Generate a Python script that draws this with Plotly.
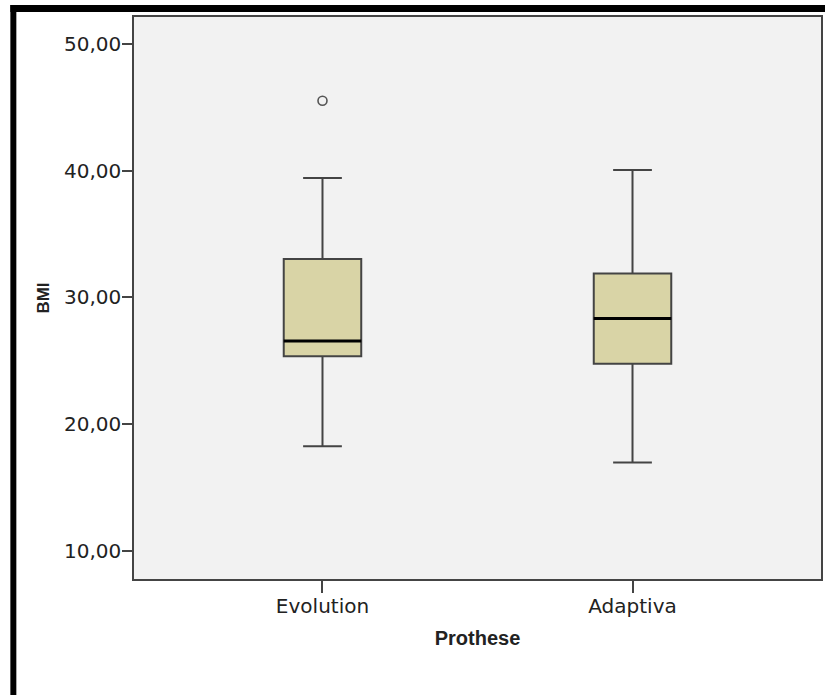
import plotly.graph_objects as go

# ---- data ----
categories = ["Evolution", "Adaptiva"]
q1 = [25.37, 24.77]
median = [26.56, 28.35]
q3 = [33.03, 31.90]
lower_whisker = [18.27, 16.98]
upper_whisker = [39.42, 40.06]
outlier_categories = ["Evolution"]
outlier_values = [45.52]
y_ticks = [10, 20, 30, 40, 50]

# ---- layout geometry (pixels) ----
W, H = 825, 695
L, R, T, B = 134, 2, 17, 116
PW, PH = W - L - R, H - T - B


def px_x(p):
    return (p - L) / PW


def px_y(p):
    return (H - B - p) / PH


BOX_LINE = "#444444"
TICK_FONT = dict(family="DejaVu Sans", size=20, color="#222222")

fig = go.Figure()

fig.add_trace(go.Box(
    x=categories, q1=q1, median=median, q3=q3,
    lowerfence=lower_whisker, upperfence=upper_whisker,
    fillcolor="#d9d4a6", line=dict(color=BOX_LINE, width=2),
    width=0.25, whiskerwidth=0.5, boxpoints=False,
    showlegend=False, hoverinfo="skip",
))
# thick black median line drawn by a flat box at the median
fig.add_trace(go.Box(
    x=categories, q1=median, median=median, q3=median,
    lowerfence=median, upperfence=median,
    fillcolor="rgba(0,0,0,0)", line=dict(color="#000000", width=3),
    width=0.25, whiskerwidth=0, boxpoints=False,
    showlegend=False, hoverinfo="skip",
))
fig.add_trace(go.Scatter(
    x=outlier_categories, y=outlier_values, mode="markers",
    marker=dict(symbol="circle-open", size=9, color="#555555",
                line=dict(width=1.6, color="#555555")),
    showlegend=False, hoverinfo="skip",
))

fig.update_layout(
    width=W, height=H,
    margin=dict(l=L, r=R, t=T, b=B, pad=0),
    paper_bgcolor="white", plot_bgcolor="#f2f2f2",
    separators=",.",
    boxmode="overlay",
    xaxis=dict(
        type="category", categoryorder="array", categoryarray=categories,
        range=[-0.608, 1.608],
        showline=True, linecolor=BOX_LINE, linewidth=1.5, mirror=True,
        ticks="outside", ticklen=12, tickwidth=1.5, tickcolor=BOX_LINE,
        tickfont=TICK_FONT, showgrid=False, zeroline=False,
        ticklabelstandoff=-4,
        title=dict(text="Prothese", standoff=14,
                   font=dict(family="Liberation Sans", size=20, weight="bold", color="#222222")),
    ),
    yaxis=dict(
        range=[7.79, 52.13], tickmode="array", tickvals=y_ticks, tickformat=".2f",
        showline=True, linecolor=BOX_LINE, linewidth=1.5, mirror=True,
        ticks="outside", ticklen=10, tickwidth=1.5, tickcolor=BOX_LINE,
        tickfont=TICK_FONT, showgrid=False, zeroline=False,
        ticklabelstandoff=-3,
        title=dict(text="BMI", standoff=10,
                   font=dict(family="Liberation Sans", size=17, weight="bold", color="#222222")),
    ),
    shapes=[
        dict(type="rect", xref="paper", yref="paper",
             x0=px_x(10), x1=px_x(W + 5), y0=px_y(12), y1=px_y(5),
             fillcolor="black", line=dict(width=0), layer="above"),
        dict(type="rect", xref="paper", yref="paper",
             x0=px_x(10), x1=px_x(16), y0=px_y(H + 5), y1=px_y(5),
             fillcolor="black", line=dict(width=0), layer="above"),
    ],
)

fig.write_html("out.html")
